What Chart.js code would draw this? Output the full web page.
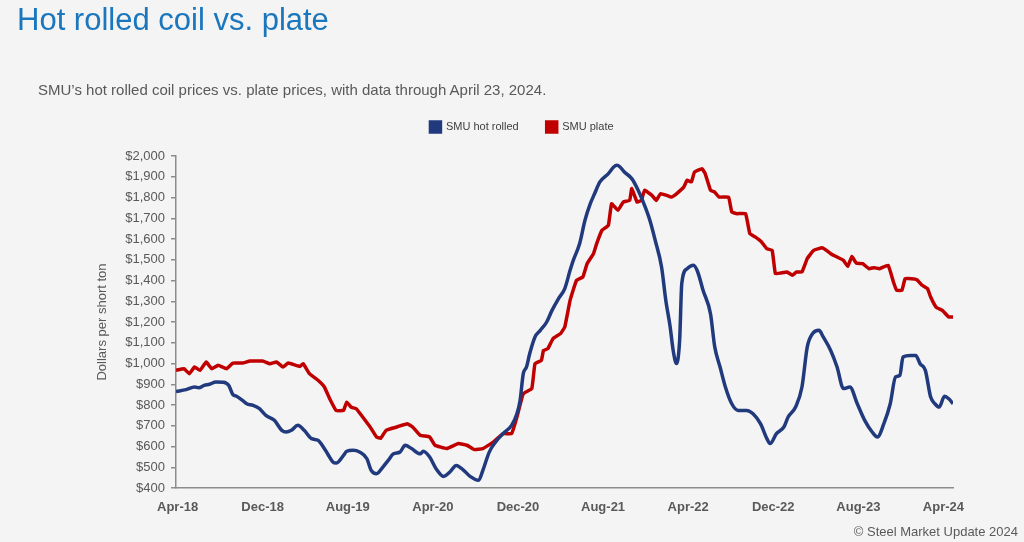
<!DOCTYPE html>
<html>
<head>
<meta charset="utf-8">
<script src="https://cdn.jsdelivr.net/npm/chart.js@4.4.1/dist/chart.umd.min.js"></script>
<style>
  html, body { margin: 0; padding: 0; background: #f4f4f4; }
  body { width: 1024px; height: 542px; position: relative; overflow: hidden; font-family: "Liberation Sans", Arial, sans-serif; }
  #titulo { position: absolute; left: 17px; top: 2px; font-size: 31px; color: #1a76bd; white-space: nowrap; }
  #subtitulo { position: absolute; left: 38px; top: 81px; font-size: 15px; color: #595959; white-space: nowrap; }
  #fuente { position: absolute; right: 6px; top: 524px; font-size: 13px; color: #595959; white-space: nowrap; }
  #caja { position: absolute; left: 0; top: 0; width: 1024px; height: 542px; }
</style>
</head>
<body>
<div id="caja"><canvas id="grafica"></canvas></div>
<div id="titulo">Hot rolled coil vs. plate</div>
<div id="subtitulo">SMU’s hot rolled coil prices vs. plate prices, with data through April 23, 2024.</div>
<div id="fuente">© Steel Market Update 2024</div>
<script>
// meses desde abril 2018
let etiquetasX = ["Apr-18", "Dec-18", "Aug-19", "Apr-20", "Dec-20", "Aug-21", "Apr-22", "Dec-22", "Aug-23", "Apr-24"];
let mesesEtiquetas = [0, 8, 16, 24, 32, 40, 48, 56, 64, 72];

let mesesHR = [-0.15, 0.8, 1.6, 2.0, 2.5, 3.0, 3.6, 4.3, 4.8, 5.2, 5.5, 6.1, 6.5, 7.1, 7.7, 8.3, 9.1, 9.8, 10.2, 10.7,
  11.3, 11.9, 12.6, 13.2, 13.7, 14.1, 14.6, 14.9, 15.6, 15.9, 16.5, 17.1, 17.8, 18.2, 18.7, 19.3, 19.8, 20.3, 20.9, 21.4,
  22.0, 22.8, 23.1, 23.7, 24.3, 25.0, 25.6, 26.2, 26.9, 27.5, 28.3, 28.7, 29.3, 29.9, 30.6, 31.4, 31.9, 32.2, 32.5, 32.8,
  33.1, 33.6, 34.1, 34.7, 35.2, 35.8, 36.4, 36.9, 37.2, 37.8, 38.3, 38.8, 39.2, 39.7, 40.5, 41.0, 41.3, 41.6, 42.0, 42.7,
  43.3, 43.9, 44.4, 44.9, 45.5, 45.9, 46.3, 46.6, 46.9, 47.2, 47.4, 47.9, 48.5, 48.9, 49.4, 50.1, 50.5, 51.0, 51.5, 52.1,
  52.7, 53.5, 54.1, 54.8, 55.4, 55.7, 56.3, 57.0, 57.4, 58.1, 58.7, 59.2, 59.7, 60.3, 60.7, 61.4, 62.0, 62.6, 63.2, 63.9,
  64.6, 65.3, 65.8, 66.4, 67.0, 67.5, 67.9, 68.2, 68.9, 69.4, 69.8, 70.3, 70.8, 71.2, 71.6, 72.1, 72.5, 72.9];
let preciosHR = [865, 874, 887, 883, 895, 900, 911, 910, 895, 850, 843, 822, 806, 798, 782, 750, 726, 678, 670, 678,
  702, 678, 638, 630, 598, 565, 525, 520, 557, 577, 582, 574, 541, 485, 469, 501, 533, 565, 573, 606,
  590, 565, 577, 549, 493, 456, 477, 509, 485, 456, 437, 485, 573, 622, 662, 702, 758, 822, 951, 983,
  1047, 1128, 1160, 1200, 1256, 1312, 1361, 1449, 1497, 1578, 1690, 1770, 1818, 1875, 1915, 1947, 1955, 1947, 1923, 1891,
  1835, 1762, 1690, 1594, 1465, 1304, 1180, 1060, 1000, 1112, 1385, 1457, 1473, 1441, 1353, 1240, 1080, 983, 887, 806,
  774, 774, 758, 710, 638, 614, 662, 694, 742, 790, 887, 1080, 1144, 1160, 1128, 1063, 983, 879, 887, 806,
  726, 670, 646, 710, 806, 935, 943, 1031, 1039, 1039, 999, 967, 838, 806, 790, 842, 830, 806];

let mesesPlaca = [-0.15, 0.6, 1.1, 1.6, 2.1, 2.7, 3.2, 3.8, 4.6, 5.2, 6.1, 6.8, 8.0, 8.7, 9.3, 9.9, 10.4, 11.5, 11.8, 12.4,
  13.2, 13.8, 14.3, 14.9, 15.6, 15.9, 16.3, 16.8, 17.4, 18.1, 18.7, 19.1, 19.6, 20.6, 21.6, 22.1, 22.8, 23.7, 24.2, 25.3,
  26.4, 27.2, 27.9, 28.7, 29.7, 30.6, 31.4, 31.9, 32.5, 33.3, 33.6, 34.2, 34.4, 34.8, 35.3, 36.0, 36.4, 36.9, 37.5, 38.1,
  38.5, 39.1, 39.4, 39.9, 40.5, 40.8, 41.4, 41.9, 42.5, 42.7, 43.2, 43.6, 43.9, 44.6, 45.0, 45.4, 46.0, 46.4, 46.9, 47.6,
  47.9, 48.3, 48.6, 49.3, 49.6, 50.1, 50.5, 50.9, 51.8, 52.1, 52.6, 53.4, 53.8, 54.3, 54.9, 55.4, 55.9, 56.2, 56.7, 57.3,
  57.8, 58.2, 58.7, 59.2, 59.8, 60.6, 60.9, 61.4, 62.0, 62.6, 63.0, 63.4, 63.8, 64.4, 65.0, 65.5, 66.0, 66.8, 67.3, 67.6,
  68.1, 68.4, 69.0, 69.5, 70.0, 70.5, 70.8, 71.3, 71.9, 72.5, 72.9];
let preciosPlaca = [967, 975, 951, 983, 967, 1007, 975, 991, 975, 1002, 1002, 1012, 1012, 999, 1007, 983, 1002, 986, 999, 951,
  919, 887, 830, 774, 774, 814, 790, 782, 742, 694, 646, 640, 678, 694, 710, 694, 654, 646, 606, 590,
  614, 606, 585, 590, 622, 662, 662, 742, 855, 879, 999, 1015, 1063, 1071, 1120, 1144, 1176, 1304, 1401, 1417,
  1481, 1529, 1578, 1642, 1666, 1770, 1738, 1778, 1786, 1843, 1778, 1786, 1835, 1810, 1786, 1818, 1810, 1802, 1818, 1851,
  1883, 1875, 1923, 1939, 1915, 1835, 1826, 1802, 1802, 1730, 1722, 1722, 1626, 1610, 1586, 1553, 1545, 1433, 1436, 1441,
  1425, 1441, 1441, 1506, 1545, 1558, 1549, 1529, 1513, 1497, 1468, 1516, 1484, 1481, 1457, 1462, 1457, 1473, 1393, 1353,
  1353, 1409, 1409, 1404, 1377, 1361, 1320, 1272, 1256, 1224, 1224];

let gris = "#595959";
let lineaEje = "#8c8c8c";

function puntos(xs, ys) {
    return xs.map((x, i) => ({ x: x, y: ys[i] }));
}

// espacio extra entre la leyenda y el area del grafico
let espacioLeyenda = {
    id: "espacioLeyenda",
    afterInit(chart) {
        let fitOriginal = chart.legend.fit;
        chart.legend.fit = function () {
            fitOriginal.call(this);
            this.height += 13.5;
        };
    }
};

let ctx = document.getElementById("grafica").getContext("2d");
window.miGrafico = new Chart(ctx, {
    type: "line",
    data: {
        datasets: [{
            label: "SMU hot rolled",
            data: puntos(mesesHR, preciosHR),
            borderColor: "#213a7d",
            backgroundColor: "#213a7d",
            borderWidth: 3.5,
            pointRadius: 0,
            cubicInterpolationMode: "monotone"
        }, {
            label: "SMU plate",
            data: puntos(mesesPlaca, preciosPlaca),
            borderColor: "#c00000",
            backgroundColor: "#c00000",
            borderWidth: 3.5,
            pointRadius: 0,
            tension: 0.1
        }]
    },
    options: {
        responsive: true,
        maintainAspectRatio: false,
        animation: false,
        layout: { padding: { left: 91, right: 71, top: 93.5, bottom: 24 } },
        plugins: {
            legend: {
                position: "top",
                labels: {
                    boxWidth: 10,
                    boxHeight: 10,
                    padding: 28,
                    color: "#404040",
                    font: { family: "Liberation Sans", size: 11 }
                }
            },
            tooltip: { enabled: false }
        },
        scales: {
            x: {
                type: "linear",
                min: -0.15,
                max: 72.9,
                afterBuildTicks: (scale) => {
                    scale.ticks = mesesEtiquetas.map(v => ({ value: v }));
                },
                afterFit: (scale) => { scale.height = 30; },
                grid: { display: false },
                border: { display: true, color: lineaEje, width: 1.5 },
                ticks: {
                    autoSkip: false,
                    maxRotation: 0,
                    padding: 4,
                    color: gris,
                    font: { family: "Liberation Sans", size: 13, weight: "bold" },
                    callback: (v) => etiquetasX[mesesEtiquetas.indexOf(v)]
                }
            },
            y: {
                min: 400,
                max: 2000,
                afterFit: (scale) => { scale.width = 85; },
                grid: { display: true, drawOnChartArea: false, drawTicks: true, tickLength: 5, color: lineaEje, lineWidth: 1.5 },
                border: { display: true, color: lineaEje, width: 1.5 },
                ticks: {
                    stepSize: 100,
                    padding: 6,
                    color: gris,
                    font: { family: "Liberation Sans", size: 13 },
                    callback: (v) => "$" + v.toLocaleString("en-US")
                },
                title: {
                    display: true,
                    text: "Dollars per short ton",
                    color: gris,
                    font: { family: "Liberation Sans", size: 13 }
                }
            }
        }
    },
    plugins: [espacioLeyenda]
});
</script>
</body>
</html>
